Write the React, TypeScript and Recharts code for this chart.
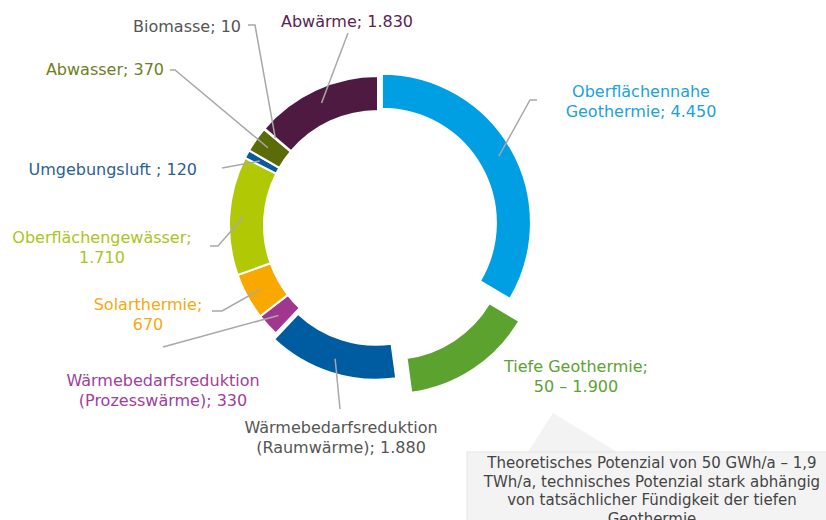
import { PieChart, Pie, Cell } from "recharts";

const categories = [
  "Oberflächennahe Geothermie",
  "Tiefe Geothermie",
  "Wärmebedarfsreduktion (Raumwärme)",
  "Wärmebedarfsreduktion (Prozesswärme)",
  "Solarthermie",
  "Oberflächengewässer",
  "Umgebungsluft",
  "Abwasser",
  "Biomasse",
  "Abwärme",
];

const values = [4450, 1900, 1880, 330, 670, 1710, 120, 370, 10, 1830];

const labelLines = [
  ["Oberflächennahe", "Geothermie; 4.450"],
  ["Tiefe Geothermie;", "50 – 1.900"],
  ["Wärmebedarfsreduktion", "(Raumwärme); 1.880"],
  ["Wärmebedarfsreduktion", "(Prozesswärme); 330"],
  ["Solarthermie;", "670"],
  ["Oberflächengewässer;", "1.710"],
  ["Umgebungsluft ; 120"],
  ["Abwasser; 370"],
  ["Biomasse; 10"],
  ["Abwärme; 1.830"],
];

const noteLines = [
  "Theoretisches Potenzial von 50 GWh/a – 1,9",
  "TWh/a, technisches Potenzial stark abhängig",
  "von tatsächlicher Fündigkeit der tiefen",
  "Geothermie",
];

const sliceColors = [
  "#009fe3", "#5ca22f", "#005ca1", "#a0368e", "#f9a800",
  "#b1c905", "#0b5a9c", "#5b6b08", "#7f7f7f", "#4f1a41",
];
const labelColors = [
  "#1ba1e2", "#5da234", "#555555", "#a0409a", "#f6a911",
  "#abc520", "#2c5f92", "#6f7e24", "#555555", "#5b2352",
];
// how far each slice is pulled out of the ring
const explode = [4.5, 24, 6, 0, 0, 0, 0, 0, 0, 0];

// label text position + leader line bend points (after the start on the ring)
const labelLayout = [
  { x: 641, y: 97, anchor: "middle", path: [[530, 100], [537, 100]] },
  { x: 576, y: 372, anchor: "middle", path: [] },
  { x: 341, y: 433, anchor: "middle", path: [[340, 409]] },
  { x: 163, y: 386, anchor: "middle", path: [[163, 347]] },
  { x: 148, y: 310, anchor: "middle", path: [[222, 311], [212, 311]] },
  { x: 102, y: 243, anchor: "middle", path: [[218, 246], [210, 246]] },
  { x: 197, y: 175, anchor: "end", path: [[222, 168]] },
  { x: 164, y: 75, anchor: "end", path: [[175, 70], [170, 70]] },
  { x: 241, y: 32, anchor: "end", path: [[255, 25], [248, 25]] },
  { x: 347, y: 27, anchor: "middle", path: [[348, 33]] },
];

const data = categories.map((name, i) => ({ name, value: values[i] }));

const CX = 373;
const CY = 220;
const INNER = 114;
const OUTER = 149;
const RAD = Math.PI / 180;
const FONT = "'DejaVu Sans', Verdana, sans-serif";

const total = values.reduce((a, b) => a + b, 0);
const midAngles = values.map(
  (v, i) => ((values.slice(0, i).reduce((a, b) => a + b, 0) + v / 2) / total) * 360
);

const renderLabel = (props: any) => {
  const { cx, cy, midAngle, innerRadius, outerRadius, index } = props;
  const lay = labelLayout[index];
  const r = (innerRadius + outerRadius) / 2 + 3 + explode[index];
  const sx = cx + r * Math.cos(-midAngle * RAD);
  const sy = cy + r * Math.sin(-midAngle * RAD);
  const pts = [[sx, sy], ...lay.path].map((p) => p.join(",")).join(" ");
  return (
    <g key={"lbl" + index}>
      {lay.path.length > 0 && (
        <polyline points={pts} fill="none" stroke="#a8a8a8" strokeWidth={1.5} />
      )}
      <text
        x={lay.x}
        y={lay.y}
        textAnchor={lay.anchor as any}
        fill={labelColors[index]}
        fontSize={16}
        fontFamily={FONT}
      >
        {labelLines[index].map((t, k) => (
          <tspan key={k} x={lay.x} dy={k === 0 ? 0 : 19.5}>
            {t}
          </tspan>
        ))}
      </text>
    </g>
  );
};

export default function App() {
  return (
    <div style={{ position: "absolute", left: 0, top: 0, width: 826, height: 520, background: "#fff", overflow: "hidden" }}>
      <svg width={826} height={520} style={{ position: "absolute", left: 0, top: 0 }}>
        <polygon points="528,452 553,413 617,452" fill="#f3f3f3" />
        <rect x={467} y={452} width={370} height={80} fill="#f3f3f3" stroke="#e6e6e6" />
        <text x={652} y={468} textAnchor="middle" fill="#444" fontSize={15} fontFamily={FONT}>
          {noteLines.map((t, k) => (
            <tspan key={k} x={652} dy={k === 0 ? 0 : 18.5}>
              {t}
            </tspan>
          ))}
        </text>
      </svg>
      <div style={{ position: "absolute", left: 0, top: 0 }}>
        <PieChart width={826} height={520}>
          <Pie
            data={data}
            dataKey="value"
            cx={CX}
            cy={CY}
            innerRadius={INNER}
            outerRadius={OUTER}
            startAngle={90}
            endAngle={-270}
            stroke="#fff"
            strokeWidth={2}
            label={renderLabel}
            labelLine={false}
            isAnimationActive={false}
          >
            {data.map((d, i) => (
              <Cell
                key={d.name}
                fill={explode[i] > 0 ? "none" : sliceColors[i]}
                stroke={explode[i] > 0 ? "none" : "#fff"}
              />
            ))}
          </Pie>
          {explode.map((d, j) =>
            d > 0 ? (
              <Pie
                key={"ex" + j}
                data={data}
                dataKey="value"
                cx={CX + d * Math.sin(midAngles[j] * RAD)}
                cy={CY - d * Math.cos(midAngles[j] * RAD)}
                innerRadius={INNER}
                outerRadius={OUTER}
                startAngle={90}
                endAngle={-270}
                strokeWidth={2}
                isAnimationActive={false}
              >
                {data.map((e, i) => (
                  <Cell
                    key={e.name}
                    fill={i === j ? sliceColors[i] : "none"}
                    stroke={i === j ? "#fff" : "none"}
                  />
                ))}
              </Pie>
            ) : null
          )}
        </PieChart>
      </div>
    </div>
  );
}
